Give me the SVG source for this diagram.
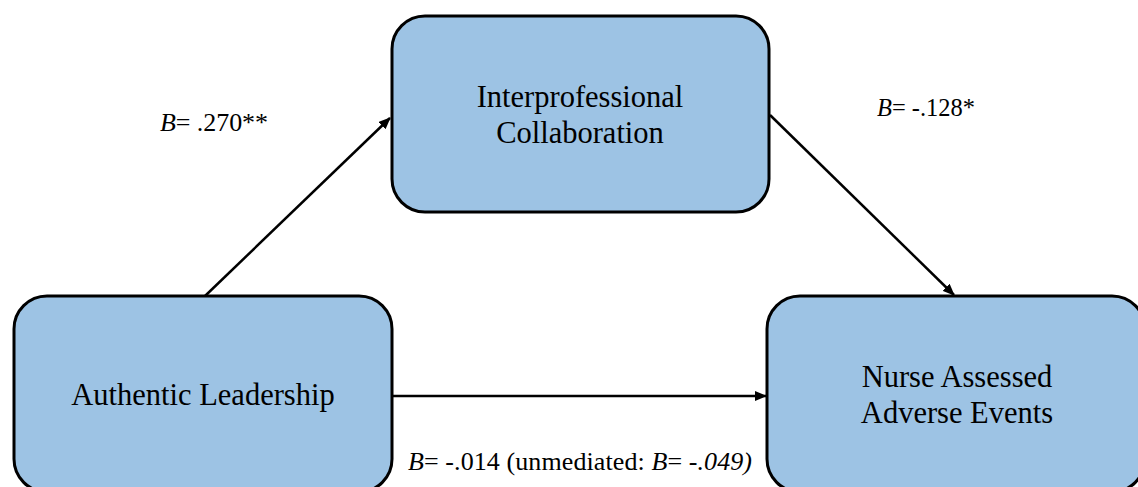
<svg xmlns="http://www.w3.org/2000/svg" width="1138" height="487" viewBox="0 0 1138 487">
<style>
.box{fill:#9DC3E4;stroke:#000;stroke-width:3}
.lbl{font-family:"Liberation Serif","Times New Roman",serif;font-size:30.5px;fill:#000;text-anchor:middle}
.coef{font-family:"Liberation Serif","Times New Roman",serif;font-size:26px;fill:#000}
.conn{stroke:#000;stroke-width:2.5;fill:none;marker-end:url(#ah)}
</style>
<defs>
<marker id="ah" markerUnits="userSpaceOnUse" markerWidth="12" markerHeight="10" refX="11" refY="5" orient="auto">
<path d="M0,0 L12,5 L0,10 Z" fill="#000"/>
</marker>
</defs>
<rect width="1138" height="487" fill="#fff"/>
<g id="connectors">
<line class="conn" x1="205" y1="296" x2="390" y2="118"/>
<line class="conn" x1="770" y1="115" x2="954" y2="295"/>
<line class="conn" x1="392" y1="396" x2="766" y2="396"/>
</g>
<g id="node-collab">
<rect class="box" x="392" y="16" width="377" height="196" rx="33"/>
<text class="lbl" x="580" y="107">Interprofessional</text>
<text class="lbl" x="580" y="143">Collaboration</text>
</g>
<g id="node-leadership">
<rect class="box" x="14" y="296" width="378" height="196" rx="33"/>
<text class="lbl" x="203" y="405">Authentic Leadership</text>
</g>
<g id="node-adverse">
<rect class="box" x="767" y="296" width="378" height="196" rx="33"/>
<text class="lbl" x="957" y="387">Nurse Assessed</text>
<text class="lbl" x="957" y="423">Adverse Events</text>
</g>
<g id="labels">
<text class="coef" x="160" y="131" textLength="108" lengthAdjust="spacing"><tspan font-style="italic">B</tspan>= .270**</text>
<text class="coef" x="877" y="116" textLength="98" lengthAdjust="spacingAndGlyphs"><tspan font-style="italic">B</tspan>= -.128*</text>
<text class="coef" x="408" y="470" textLength="344" lengthAdjust="spacing"><tspan font-style="italic">B</tspan>= -.014 (unmediated: <tspan font-style="italic">B</tspan>= <tspan font-style="italic">-.049)</tspan></text>
</g>
</svg>
